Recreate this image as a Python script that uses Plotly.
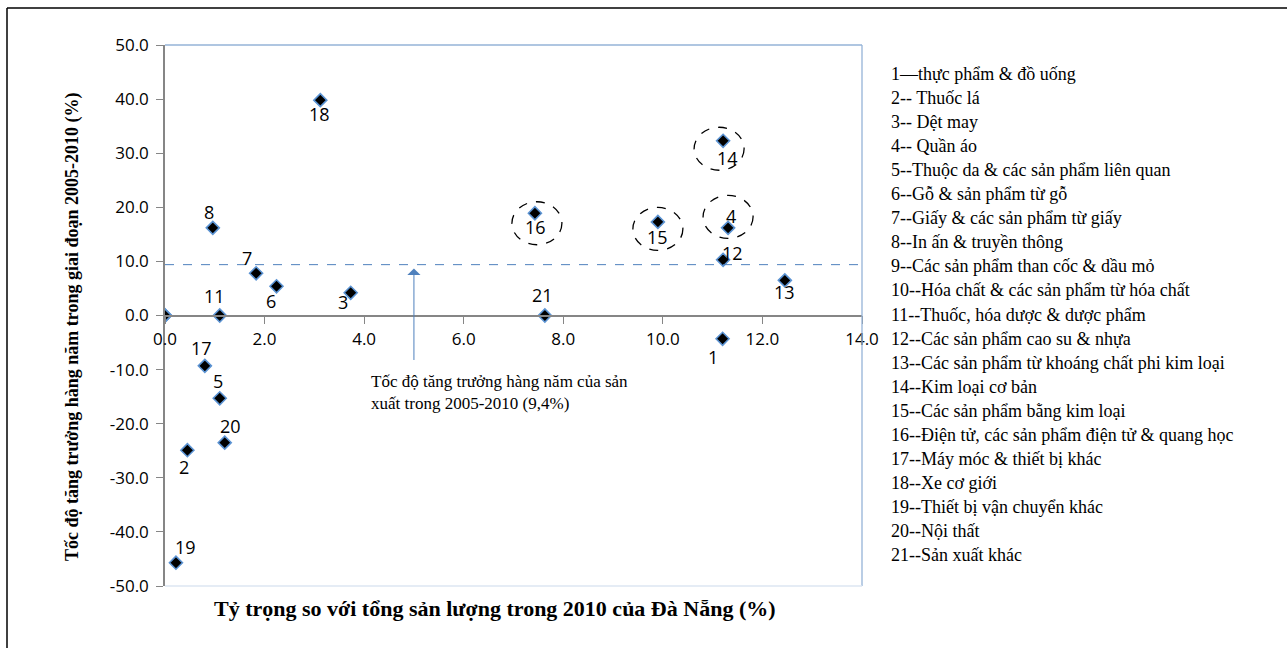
import plotly.graph_objects as go

# Sector number, share of Da Nang's 2010 output (%), annual growth 2005-2010 (%)
sector_ids = [1, 2, 3, 4, 5, 6, 7, 8, 9, 10, 11, 12, 13, 14, 15, 16, 17, 18, 19, 20, 21]
output_share = [11.2, 0.45, 3.73, 11.31, 1.10, 2.24, 1.83, 0.96, 0.0, 0.0, 1.10,
                11.21, 12.45, 11.21, 9.90, 7.43, 0.80, 3.12, 0.22, 1.20, 7.63]
annual_growth = [-4.3, -24.9, 4.2, 16.2, -15.3, 5.4, 7.8, 16.2, 0.0, 0.0, 0.0,
                 10.3, 6.5, 32.3, 17.3, 18.9, -9.3, 39.8, -45.7, -23.5, 0.0]

sector_names = [
    "1\u2014thực phẩm & đồ uống",
    "2-- Thuốc lá",
    "3-- Dệt may",
    "4-- Quần áo",
    "5--Thuộc da & các sản phẩm liên quan",
    "6--Gỗ & sản phẩm từ gỗ",
    "7--Giấy & các sản phẩm từ giấy",
    "8--In ấn & truyền thông",
    "9--Các sản phẩm than cốc & dầu mỏ",
    "10--Hóa chất & các sản phẩm từ hóa chất",
    "11--Thuốc, hóa dược & dược phẩm",
    "12--Các sản phẩm cao su & nhựa",
    "13--Các sản phẩm từ khoáng chất phi kim loại",
    "14--Kim loại cơ bản",
    "15--Các sản phẩm bằng kim loại",
    "16--Điện tử, các sản phẩm điện tử & quang học",
    "17--Máy móc & thiết bị khác",
    "18--Xe cơ giới",
    "19--Thiết bị vận chuyển khác",
    "20--Nội thất",
    "21--Sản xuất khác",
]

# Average annual growth of manufacturing 2005-2010 (%)
avg_growth = 9.4

x_ticks = [0, 2, 4, 6, 8, 10, 12, 14]
x_tick_labels = ["0.0", "2.0", "4.0", "6.0", "8.0", "10.0", "12.0", "14.0"]
y_ticks = [-50, -40, -30, -20, -10, 0, 10, 20, 30, 40, 50]
y_tick_labels = ["-50.0", "-40.0", "-30.0", "-20.0", "-10.0", "0.0",
                 "10.0", "20.0", "30.0", "40.0", "50.0"]

# Sectors whose point is ringed by a dashed ellipse
circled = [16, 15, 4, 14]

# ---- layout geometry (pixels) ----
W, H = 1287, 648
L, R, T, B = 165, 425, 45, 62
PW, PH = W - L - R, H - T - B


def px_x(p):
    return (p - L) / PW


def px_y(p):
    return (H - B - p) / PH


SERIF = "Liberation Serif, Times New Roman, serif"
SANS = "Open Sans, Noto Sans, sans-serif"
BLUE = "#4F81BD"

fig = go.Figure()

fig.add_trace(go.Scatter(
    x=output_share, y=annual_growth, mode="markers",
    marker=dict(symbol="diamond", size=10, color="black",
                line=dict(color="#5B93D3", width=1.6)),
    text=sector_names, hoverinfo="text", showlegend=False,
))

# point label offsets (dx right, dy down) in pixels
label_offsets = {
    1: (-10, 18), 2: (-3, 17), 3: (-8, 9), 4: (3, -12), 5: (-2, -17),
    6: (-6, 15), 7: (-9, -15), 8: (-4, -16), 11: (-5, -20), 12: (9, -7),
    13: (0, 12), 14: (4, 17), 15: (0, 15), 16: (1, 14), 17: (-3, -18),
    18: (-1, 14), 19: (10, -16), 20: (6, -17), 21: (-2, -21),
}

annotations = []
for sid, xv, yv in zip(sector_ids, output_share, annual_growth):
    if sid not in label_offsets:
        continue
    dx, dy = label_offsets[sid]
    annotations.append(dict(
        x=xv, y=yv, xref="x", yref="y", text=str(sid), showarrow=False,
        xanchor="center", yanchor="middle", xshift=dx, yshift=-dy,
        font=dict(family=SANS, size=18, color="black"),
    ))

shapes = []

# dashed rings around the highlighted sectors (offset of ring centre, px)
ring_offset = {16: (2, 10), 15: (0, 7), 4: (0, -11), 14: (-4, 8)}
sx = 14.0 / PW      # data units per pixel, x
sy = 100.0 / PH     # data units per pixel, y
for sid in circled:
    i = sector_ids.index(sid)
    ox, oy = ring_offset[sid]
    cx = output_share[i] + ox * sx
    cy = annual_growth[i] - oy * sy
    rx, ry = 25 * sx, 21.5 * sy
    shapes.append(dict(type="circle", xref="x", yref="y",
                       x0=cx - rx, x1=cx + rx, y0=cy - ry, y1=cy + ry,
                       line=dict(color="black", width=1.3, dash="dash")))

# average growth reference line
shapes.append(dict(type="line", xref="x", yref="y", x0=0, x1=14,
                   y0=avg_growth, y1=avg_growth,
                   line=dict(color=BLUE, width=1, dash="dash")))

# plot-area frame (top, right, bottom)
shapes.append(dict(type="line", xref="paper", yref="paper", x0=0, x1=1, y0=1, y1=1,
                   line=dict(color="#95B3D7", width=1.3)))
shapes.append(dict(type="line", xref="paper", yref="paper", x0=1, x1=1, y0=0, y1=1,
                   line=dict(color="#95B3D7", width=1.3)))
shapes.append(dict(type="line", xref="paper", yref="paper", x0=0, x1=1, y0=0, y1=0,
                   line=dict(color="#DCE6F2", width=1.3)))

# outer chart border (left and top edges fall inside the page)
shapes.append(dict(type="line", xref="paper", yref="paper",
                   x0=px_x(7), x1=px_x(7), y0=px_y(700), y1=px_y(8),
                   line=dict(color="black", width=1.5)))
shapes.append(dict(type="line", xref="paper", yref="paper",
                   x0=px_x(7), x1=px_x(1400), y0=px_y(8), y1=px_y(8),
                   line=dict(color="black", width=1.5)))

# arrow pointing to the reference line
annotations.append(dict(
    x=5.0, y=avg_growth - 0.7, ax=5.0, ay=-8.5, xref="x", yref="y",
    axref="x", ayref="y", text="", showarrow=True, arrowhead=1,
    arrowsize=2.2, arrowwidth=1, arrowcolor=BLUE,
))
annotations.append(dict(
    x=px_x(369), y=px_y(370), xref="paper", yref="paper",
    xanchor="left", yanchor="top", align="left", showarrow=False,
    text="Tốc độ tăng trưởng hàng năm của sản<br>xuất trong 2005-2010 (9,4%)",
    font=dict(family=SERIF, size=17, color="black"),
))

# sector key on the right
for k, name in enumerate(sector_names):
    annotations.append(dict(
        x=px_x(889), y=px_y(74 + 24.05 * k), xref="paper", yref="paper",
        xanchor="left", yanchor="middle", showarrow=False, text=name,
        font=dict(family=SERIF, size=18, color="black"),
    ))

# axis titles
annotations.append(dict(
    x=px_x(495), y=px_y(608), xref="paper", yref="paper",
    xanchor="center", yanchor="middle", showarrow=False,
    text="<b>Tỷ trọng so với tổng sản lượng trong 2010 của Đà Nẵng (%)</b>",
    font=dict(family=SERIF, size=22, color="black"),
))
annotations.append(dict(
    x=px_x(73), y=px_y(327), xref="paper", yref="paper", textangle=-90,
    xanchor="center", yanchor="middle", showarrow=False,
    text="<b>Tốc độ tăng trưởng hàng năm trong giai đoạn 2005-2010 (%)</b>",
    font=dict(family=SERIF, size=18, color="black"),
))

fig.update_layout(
    width=W, height=H,
    margin=dict(l=L, r=R, t=T, b=B, pad=0),
    paper_bgcolor="white", plot_bgcolor="white",
    shapes=shapes, annotations=annotations,
    xaxis=dict(range=[0, 14], tickvals=x_ticks, ticktext=x_tick_labels,
               anchor="free", position=0.5, showline=True, linecolor="#868686",
               linewidth=1.5, ticks="outside", ticklen=8, tickcolor="#868686",
               tickwidth=1, showgrid=False, zeroline=False,
               tickfont=dict(family=SANS, size=17, color="black")),
    yaxis=dict(range=[-50, 50], tickvals=y_ticks, ticktext=y_tick_labels,
               showline=True, linecolor="#868686", linewidth=1.5,
               ticks="outside", ticklen=7, tickcolor="#868686", tickwidth=1,
               showgrid=False, zeroline=False, ticklabelstandoff=4,
               tickfont=dict(family=SANS, size=17, color="black")),
)

fig.write_html("out.html")
